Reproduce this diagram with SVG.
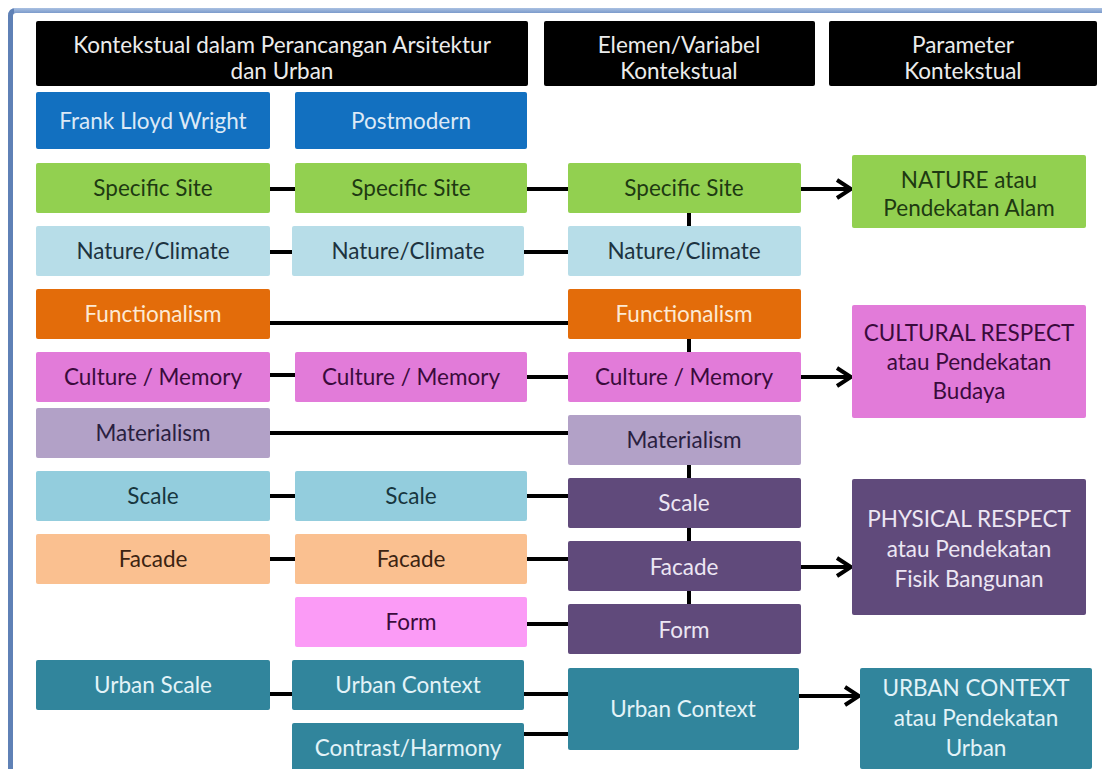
<svg xmlns="http://www.w3.org/2000/svg" width="1102" height="769" viewBox="0 0 1102 769">
<style>
text{font-family:Lato,"Open Sans","Liberation Sans",sans-serif;font-size:22.5px;text-anchor:middle}
rect{rx:2px}
.hd rect{fill:#000}.hd text{fill:#ececec}
.blue rect{fill:#1270c0}.blue text{fill:#dce9f6}
.green rect{fill:#92d050}.green text{fill:#1e3a12}
.lb rect{fill:#b7dde8}.lb text{fill:#1d3340}
.or rect{fill:#e36c0a}.or text{fill:#fde9d3}
.pk rect{fill:#e27bd9}.pk text{fill:#3a0b3c}
.li rect{fill:#b2a1c7}.li text{fill:#2a2040}
.sb rect{fill:#93cddd}.sb text{fill:#17363e}
.pe rect{fill:#fac090}.pe text{fill:#3c2412}
.fp rect{fill:#fb9bf6}.fp text{fill:#3a0b3c}
.dp rect{fill:#604a7b}.dp text{fill:#ece6f3}
.tl rect{fill:#31859c}.tl text{fill:#e3f3f8}
.cn line{stroke:#000;stroke-width:4;fill:none}
</style>
<defs>
<marker id="ah" markerUnits="userSpaceOnUse" viewBox="0 0 18 22" refX="16" refY="11" markerWidth="18" markerHeight="22" orient="auto">
<path d="M2,2 L16,11 L2,20" fill="none" stroke="#000" stroke-width="4"/>
</marker>
<linearGradient id="tb" x1="0" y1="0" x2="0" y2="1"><stop offset="0" stop-color="#a9c0e2"/><stop offset="1" stop-color="#7c9bcb"/></linearGradient>
</defs>
<rect width="1102" height="769" fill="#fff" style="rx:0"/>
<g id="frame">
<path d="M8,769 V16 Q8,8 16,8 H1102 V13 H16 Q13,13 13,16 V769 Z" fill="#5f81b6"/>
<rect x="14" y="8" width="1088" height="5" fill="url(#tb)" style="rx:0"/>
</g>
<g id="connectors" class="cn">
<line x1="270" y1="189" x2="295" y2="189"/>
<line x1="527" y1="189" x2="568" y2="189"/>
<line x1="801" y1="189" x2="851" y2="189" marker-end="url(#ah)"/>
<line x1="689" y1="213" x2="689" y2="226"/>
<line x1="270" y1="252" x2="292" y2="252"/>
<line x1="524" y1="252" x2="568" y2="252"/>
<line x1="270" y1="323" x2="568" y2="323"/>
<line x1="689" y1="339" x2="689" y2="352"/>
<line x1="270" y1="375" x2="295" y2="375"/>
<line x1="527" y1="377" x2="568" y2="377"/>
<line x1="801" y1="377" x2="851" y2="377" marker-end="url(#ah)"/>
<line x1="270" y1="433" x2="568" y2="433"/>
<line x1="689" y1="465" x2="689" y2="478"/>
<line x1="270" y1="496" x2="295" y2="496"/>
<line x1="527" y1="496" x2="568" y2="496"/>
<line x1="689" y1="528" x2="689" y2="541"/>
<line x1="270" y1="559" x2="295" y2="559"/>
<line x1="527" y1="559" x2="568" y2="559"/>
<line x1="801" y1="567" x2="851" y2="567" marker-end="url(#ah)"/>
<line x1="689" y1="591" x2="689" y2="604"/>
<line x1="527" y1="624" x2="568" y2="624"/>
<line x1="270" y1="694" x2="292" y2="694"/>
<line x1="524" y1="694" x2="568" y2="694"/>
<line x1="524" y1="734" x2="568" y2="734"/>
<line x1="799" y1="696" x2="859" y2="696" marker-end="url(#ah)"/>
</g>
<g id="h1" class="hd"><rect x="36" y="21" width="492" height="65"/><text x="282" y="53">Kontekstual dalam Perancangan Arsitektur</text><text x="282" y="79">dan Urban</text></g>
<g id="h2" class="hd"><rect x="544" y="21" width="271" height="65"/><text x="679" y="53">Elemen/Variabel</text><text x="679" y="79">Kontekstual</text></g>
<g id="h3" class="hd"><rect x="829" y="21" width="268" height="65"/><text x="963" y="53">Parameter</text><text x="963" y="79">Kontekstual</text></g>
<g id="flw" class="blue"><rect x="36" y="92" width="234" height="57"/><text x="153" y="129">Frank Lloyd Wright</text></g>
<g id="pm" class="blue"><rect x="295" y="92" width="232" height="57"/><text x="411" y="129">Postmodern</text></g>
<g id="ss1" class="green"><rect x="36" y="163" width="234" height="50"/><text x="153" y="196">Specific Site</text></g>
<g id="ss2" class="green"><rect x="295" y="163" width="232" height="50"/><text x="411" y="196">Specific Site</text></g>
<g id="ss3" class="green"><rect x="568" y="163" width="233" height="50"/><text x="684" y="196">Specific Site</text></g>
<g id="nature" class="green"><rect x="852" y="155" width="234" height="73"/><text x="969" y="188">NATURE atau</text><text x="969" y="216">Pendekatan Alam</text></g>
<g id="nc1" class="lb"><rect x="36" y="226" width="234" height="50"/><text x="153" y="259">Nature/Climate</text></g>
<g id="nc2" class="lb"><rect x="292" y="226" width="232" height="50"/><text x="408" y="259">Nature/Climate</text></g>
<g id="nc3" class="lb"><rect x="568" y="226" width="233" height="50"/><text x="684" y="259">Nature/Climate</text></g>
<g id="fn1" class="or"><rect x="36" y="289" width="234" height="50"/><text x="153" y="322">Functionalism</text></g>
<g id="fn3" class="or"><rect x="568" y="289" width="233" height="50"/><text x="684" y="322">Functionalism</text></g>
<g id="cm1" class="pk"><rect x="36" y="352" width="234" height="50"/><text x="153" y="385">Culture / Memory</text></g>
<g id="cm2" class="pk"><rect x="295" y="352" width="232" height="50"/><text x="411" y="385">Culture / Memory</text></g>
<g id="cm3" class="pk"><rect x="568" y="352" width="233" height="50"/><text x="684" y="385">Culture / Memory</text></g>
<g id="cultural" class="pk"><rect x="852" y="305" width="234" height="113"/><text x="969" y="341">CULTURAL RESPECT</text><text x="969" y="370">atau Pendekatan</text><text x="969" y="399">Budaya</text></g>
<g id="mt1" class="li"><rect x="36" y="408" width="234" height="50"/><text x="153" y="441">Materialism</text></g>
<g id="mt3" class="li"><rect x="568" y="415" width="233" height="50"/><text x="684" y="448">Materialism</text></g>
<g id="sc1" class="sb"><rect x="36" y="471" width="234" height="50"/><text x="153" y="504">Scale</text></g>
<g id="sc2" class="sb"><rect x="295" y="471" width="232" height="50"/><text x="411" y="504">Scale</text></g>
<g id="sc3" class="dp"><rect x="568" y="478" width="233" height="50"/><text x="684" y="511">Scale</text></g>
<g id="physical" class="dp"><rect x="852" y="479" width="234" height="136"/><text x="969" y="527">PHYSICAL RESPECT</text><text x="969" y="557">atau Pendekatan</text><text x="969" y="587">Fisik Bangunan</text></g>
<g id="fc1" class="pe"><rect x="36" y="534" width="234" height="50"/><text x="153" y="567">Facade</text></g>
<g id="fc2" class="pe"><rect x="295" y="534" width="232" height="50"/><text x="411" y="567">Facade</text></g>
<g id="fc3" class="dp"><rect x="568" y="541" width="233" height="50"/><text x="684" y="575">Facade</text></g>
<g id="fo2" class="fp"><rect x="295" y="597" width="232" height="50"/><text x="411" y="630">Form</text></g>
<g id="fo3" class="dp"><rect x="568" y="604" width="233" height="50"/><text x="684" y="638">Form</text></g>
<g id="us1" class="tl"><rect x="36" y="660" width="234" height="50"/><text x="153" y="693">Urban Scale</text></g>
<g id="uc2" class="tl"><rect x="292" y="660" width="232" height="50"/><text x="408" y="693">Urban Context</text></g>
<g id="ch2" class="tl"><rect x="292" y="723" width="232" height="50"/><text x="408" y="756">Contrast/Harmony</text></g>
<g id="uc3" class="tl"><rect x="568" y="668" width="231" height="82"/><text x="683" y="717">Urban Context</text></g>
<g id="urban" class="tl"><rect x="860" y="668" width="232" height="101"/><text x="976" y="696">URBAN CONTEXT</text><text x="976" y="726">atau Pendekatan</text><text x="976" y="756">Urban</text></g>
</svg>
